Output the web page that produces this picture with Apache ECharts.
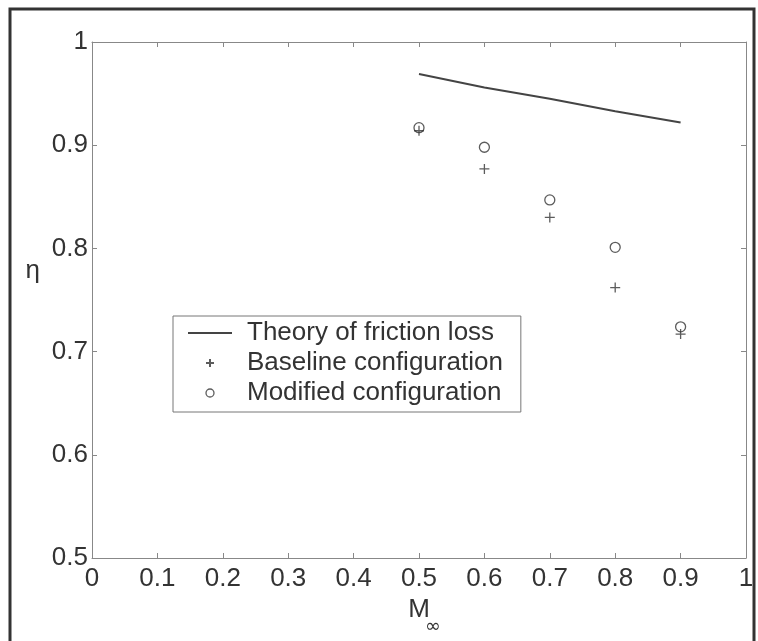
<!DOCTYPE html>
<html>
<head>
<meta charset="utf-8">
<script src="https://cdn.jsdelivr.net/npm/echarts@6/dist/echarts.min.js"></script>
<style>html,body{margin:0;padding:0;background:#fff;}#c{width:758px;height:641px;}</style>
</head>
<body>
<div id="c"></div>
<script>
var machNumbers = [0.5, 0.6, 0.7, 0.8, 0.9];
var theoryFriction = [0.969, 0.956, 0.945, 0.933, 0.922];
var baselineConfig = [0.914, 0.877, 0.830, 0.762, 0.717];
var modifiedConfig = [0.917, 0.898, 0.847, 0.801, 0.724];
var seriesNames = ['Theory of friction loss', 'Baseline configuration', 'Modified configuration'];

function pairs(xs, ys) { return xs.map(function (x, i) { return [x, ys[i]]; }); }

var FONT = 'Liberation Sans';
var TXT = '#333';
var AX = '#888';
var plusPath = 'path://M0,5L10,5M5,0L5,10';

var chart = echarts.init(document.getElementById('c'), null, {renderer: 'canvas'});
var axisCommon = {
  type: 'value', min: 0, max: 1, interval: 0.1,
  axisLine: {show: true, onZero: false, lineStyle: {color: AX, width: 1}},
  axisTick: {show: true, inside: true, length: 5, lineStyle: {color: AX, width: 1}},
  splitLine: {show: false}
};
chart.setOption({
  animation: false,
  backgroundColor: '#fff',
  grid: {left: 92, right: 12, top: 42, bottom: 83, containLabel: false, outerBoundsMode: 'none'},
  xAxis: [
    Object.assign({}, axisCommon, {
      position: 'bottom',
      axisLabel: {show: true, fontFamily: FONT, fontSize: 26, color: TXT, margin: 8, showMinLabel: true, showMaxLabel: true},
      name: '{m|M}\n{s|∞}',
      nameLocation: 'middle',
      nameGap: 37,
      nameTextStyle: {
        rich: {
          m: {fontFamily: FONT, fontSize: 26, color: TXT, lineHeight: 24},
          s: {fontFamily: 'DejaVu Sans', fontSize: 19, color: TXT, lineHeight: 10, padding: [0, 0, 0, 28]}
        }
      }
    }),
    Object.assign({}, axisCommon, {position: 'top', axisLabel: {show: false}})
  ],
  yAxis: [
    Object.assign({}, axisCommon, {
      min: 0.5, max: 1, interval: 0.1,
      position: 'left',
      axisLabel: {show: true, fontFamily: FONT, fontSize: 26, color: TXT, margin: 4, showMinLabel: true, showMaxLabel: true},
      name: '{e|η}',
      nameLocation: 'middle',
      nameRotate: 0,
      nameGap: 52,
      nameTextStyle: {rich: {e: {fontFamily: FONT, fontSize: 26, color: TXT, lineHeight: 30, padding: [0, 0, 58, 0]}}}
    }),
    Object.assign({}, axisCommon, {min: 0.5, max: 1, interval: 0.1, position: 'right', axisLabel: {show: false}})
  ],
  legend: {
    left: 173, top: 316,
    orient: 'vertical',
    padding: [4, 18, 6, 14],
    borderColor: '#777', borderWidth: 1,
    backgroundColor: '#fff',
    itemWidth: 44, itemHeight: 8, itemGap: 4,
    textStyle: {fontFamily: FONT, fontSize: 26, color: TXT, lineHeight: 26, padding: [0, 0, 0, 10]},
    data: [
      {name: seriesNames[0], itemStyle: {color: 'rgba(0,0,0,0)', borderColor: 'rgba(0,0,0,0)', borderWidth: 0}},
      {name: seriesNames[1], icon: plusPath},
      {name: seriesNames[2], icon: 'circle', itemStyle: {color: 'rgba(0,0,0,0)', borderColor: '#333', borderWidth: 1.3}}
    ]
  },
  graphic: [{
    type: 'rect', silent: true, z: 100,
    shape: {x: 10, y: 9, width: 744, height: 645},
    style: {fill: 'none', stroke: '#333', lineWidth: 3}
  }],
  series: [
    {
      name: seriesNames[0], type: 'line', symbol: 'none',
      data: pairs(machNumbers, theoryFriction),
      lineStyle: {color: '#444', width: 2},
      itemStyle: {color: '#444'}
    },
    {
      name: seriesNames[1], type: 'scatter', symbol: plusPath, symbolSize: 10,
      data: pairs(machNumbers, baselineConfig),
      itemStyle: {color: 'rgba(0,0,0,0)', borderColor: '#333', borderWidth: 1.3}
    },
    {
      name: seriesNames[2], type: 'scatter', symbol: 'circle', symbolSize: 10,
      data: pairs(machNumbers, modifiedConfig),
      itemStyle: {color: 'rgba(0,0,0,0)', borderColor: '#333', borderWidth: 1.3}
    }
  ]
});
</script>
</body>
</html>
